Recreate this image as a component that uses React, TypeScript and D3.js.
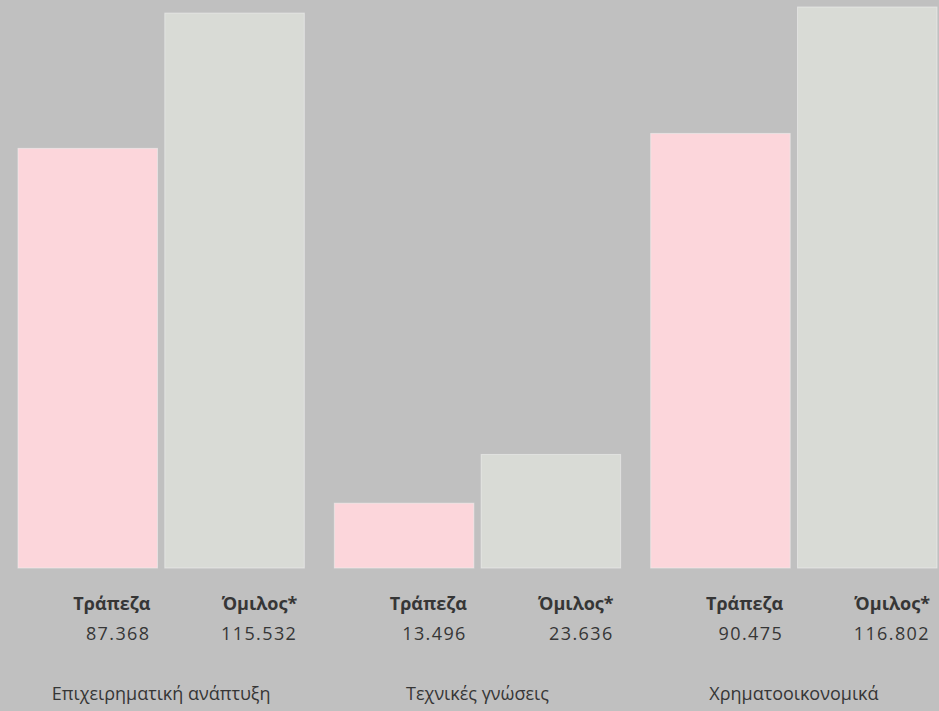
import React from "react";
import * as d3 from "d3";

// Categories and the two series (thousands of hours)
const categories = ["Επιχειρηματική ανάπτυξη", "Τεχνικές γνώσεις", "Χρηματοοικονομικά"];
const seriesNames = ["Τράπεζα", "Όμιλος*"];
const bankValues = [87.368, 13.496, 90.475];
const groupValues = [115.532, 23.636, 116.802];
const valueLabels = [
  ["87.368", "115.532"],
  ["13.496", "23.636"],
  ["90.475", "116.802"],
];

const W = 939;
const H = 711;
const BG = "#c0c0c0";
const COLORS = ["#fcd6db", "#d9dbd6"];
const TEXT = "#363636";
const FONT = "'Open Sans', 'Noto Sans', sans-serif";

export default function App() {
  const baseline = 568;
  const x0 = d3.scaleBand<string>().domain(categories).range([18, 937]).paddingInner(0.095).paddingOuter(0);
  const x1 = d3.scaleBand<string>().domain(seriesNames).range([0, x0.bandwidth()]).paddingInner(0.05).paddingOuter(0);
  const y = d3
    .scaleLinear()
    .domain([0, d3.max([...bankValues, ...groupValues]) as number])
    .range([baseline, 7]);

  const rows = categories.map((c, i) => ({
    category: c,
    values: [bankValues[i], groupValues[i]],
    labels: valueLabels[i],
  }));

  return (
    <svg
      width={W}
      height={H}
      style={{ position: "absolute", left: 0, top: 0, display: "block" }}
    >
      <rect x={0} y={0} width={W} height={H} fill={BG} />
      {rows.map((r) => {
        const gx = x0(r.category) as number;
        return (
          <g key={r.category} transform={`translate(${gx},0)`}>
            {seriesNames.map((s, j) => {
              const bx = x1(s) as number;
              const v = r.values[j];
              const right = bx + x1.bandwidth() - 7;
              return (
                <g key={s}>
                  <rect
                    x={bx}
                    y={y(v)}
                    width={x1.bandwidth()}
                    height={baseline - y(v)}
                    fill={COLORS[j]}
                    stroke="#eeeeee"
                    strokeOpacity={0.6}
                    strokeWidth={1}
                  />
                  <text
                    x={right}
                    y={610}
                    textAnchor="end"
                    fontFamily={FONT}
                    fontWeight={700}
                    fontSize={18}
                    fill={TEXT}
                  >
                    {s}
                  </text>
                  <text
                    x={right}
                    y={640}
                    textAnchor="end"
                    fontFamily={FONT}
                    fontSize={18}
                    letterSpacing={1.4}
                    fill={TEXT}
                  >
                    {r.labels[j]}
                  </text>
                </g>
              );
            })}
            <text
              x={x0.bandwidth() / 2}
              y={700}
              textAnchor="middle"
              fontFamily={FONT}
              fontSize={18}
              fill={TEXT}
            >
              {r.category}
            </text>
          </g>
        );
      })}
    </svg>
  );
}
